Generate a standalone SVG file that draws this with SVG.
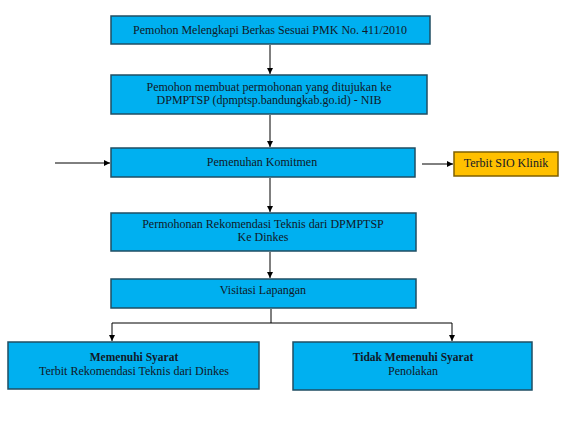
<svg xmlns="http://www.w3.org/2000/svg" width="574" height="430" viewBox="0 0 574 430">
<defs>
<marker id="ah" viewBox="0 0 10 10" refX="10" refY="5" markerWidth="6" markerHeight="6" markerUnits="userSpaceOnUse" orient="auto">
<path d="M0,0 L10,5 L0,10 z" fill="#000"/>
</marker>
<style>
.b{fill:#00B0F0;stroke:#1F4E63;stroke-width:1.5}
.y{fill:#FFC000;stroke:#7F6000;stroke-width:1.5}
text{font-family:"Liberation Serif","DejaVu Serif",serif;font-size:12px;fill:#111827;text-anchor:middle}
.bold{font-weight:bold;font-size:11.5px}
.c{stroke:#000;stroke-width:1;fill:none}
.a{marker-end:url(#ah)}
</style>
</defs>
<rect width="574" height="430" fill="#fff"/>
<g id="connectors">
<line class="c a" x1="270" y1="45" x2="270" y2="74"/>
<line class="c a" x1="270" y1="115" x2="270" y2="147"/>
<line class="c a" x1="270" y1="178" x2="270" y2="212"/>
<line class="c a" x1="270" y1="252" x2="270" y2="278"/>
<line class="c" x1="271" y1="309" x2="271" y2="323"/>
<line class="c" x1="112" y1="323" x2="452" y2="323"/>
<line class="c a" x1="112" y1="323" x2="112" y2="341"/>
<line class="c a" x1="452" y1="323" x2="452" y2="341"/>
<line class="c a" x1="55" y1="163" x2="110" y2="163"/>
<line class="c a" x1="422" y1="164" x2="453" y2="164"/>
</g>
<g id="n1">
<rect class="b" x="111" y="16" width="319" height="28"/>
<text x="270" y="34">Pemohon Melengkapi Berkas Sesuai PMK No. 411/2010</text>
</g>
<g id="n2">
<rect class="b" x="111" y="75" width="316" height="39"/>
<text x="269" y="91">Pemohon membuat permohonan yang ditujukan ke</text>
<text x="269" y="104">DPMPTSP (dpmptsp.bandungkab.go.id) - NIB</text>
</g>
<g id="n3">
<rect class="b" x="111" y="148" width="304" height="29"/>
<text x="262" y="166">Pemenuhan Komitmen</text>
</g>
<g id="n3b">
<rect class="y" x="454" y="152" width="104" height="24"/>
<text x="506" y="167">Terbit SIO Klinik</text>
</g>
<g id="n4">
<rect class="b" x="111" y="213" width="305" height="38"/>
<text x="263" y="228">Permohonan Rekomendasi Teknis dari DPMPTSP</text>
<text x="263" y="241">Ke Dinkes</text>
</g>
<g id="n5">
<rect class="b" x="111" y="279" width="305" height="29"/>
<text x="263" y="294">Visitasi Lapangan</text>
</g>
<g id="n6">
<rect class="b" x="8" y="342" width="251" height="47"/>
<text class="bold" x="134" y="361">Memenuhi Syarat</text>
<text x="134" y="375">Terbit Rekomendasi Teknis dari Dinkes</text>
</g>
<g id="n7">
<rect class="b" x="293" y="342" width="239" height="48"/>
<text class="bold" x="413" y="361">Tidak Memenuhi Syarat</text>
<text x="413" y="375">Penolakan</text>
</g>
</svg>
